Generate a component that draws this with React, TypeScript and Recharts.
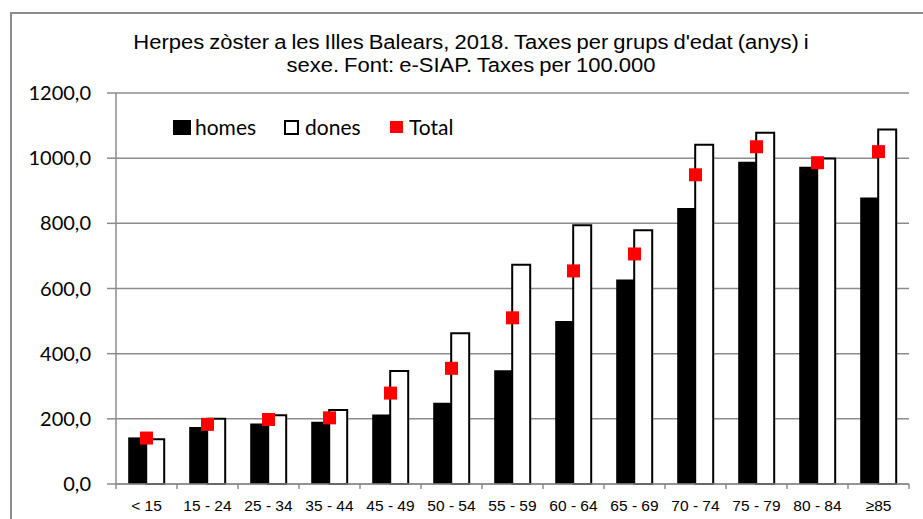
import React from "react";
import {
  ComposedChart,
  Bar,
  Line,
  XAxis,
  YAxis,
  CartesianGrid,
} from "recharts";

const categories = [
  "< 15",
  "15 - 24",
  "25 - 34",
  "35 - 44",
  "45 - 49",
  "50 - 54",
  "55 - 59",
  "60 - 64",
  "65 - 69",
  "70 - 74",
  "75 - 79",
  "80 - 84",
  "≥85",
];
const homes = [143, 175, 186, 191, 213, 249, 349, 500, 628, 847, 989, 974, 879];
const dones = [137, 200, 211, 227, 347, 463, 673, 794, 779, 1041, 1078, 999, 1088];
const total = [141, 183, 198, 203, 279, 355, 510, 654, 706, 949, 1035, 986, 1020];
const yTicks = [0, 200, 400, 600, 800, 1000, 1200];

const data = categories.map((name, i) => ({
  name,
  homes: homes[i],
  dones: dones[i],
  total: total[i],
}));

const W = 923;
const H = 519;
const GRAY = "#8c8c8c";
const LEGEND_FONT = "Lato, 'Open Sans', sans-serif";

const fmt = (v: number) => v.toFixed(1).replace(".", ",");

function CategoryTick(props: any) {
  const { x, y, payload, index } = props;
  const half = payload && payload.offset ? payload.offset : 30.5;
  const last = index === categories.length - 1;
  return (
    <g>
      <line x1={x - half} x2={x - half} y1={y} y2={y + 5} stroke={GRAY} strokeWidth={1.5} />
      {last && (
        <line x1={x + half} x2={x + half} y1={y} y2={y + 5} stroke={GRAY} strokeWidth={1.5} />
      )}
      <text
        x={x}
        y={y + 27}
        textAnchor="middle"
        fontSize={15.5}
        fill="#000"
        fontFamily="'Liberation Sans', Arial, sans-serif"
      >
        {payload.value}
      </text>
    </g>
  );
}

function SquareDot(props: any) {
  const { cx, cy } = props;
  if (cx == null || cy == null) return null;
  return <rect x={cx - 6.5} y={cy - 6.5} width={13} height={13} fill="#ff0000" />;
}

const legendText = (left: number, label: string) => (
  <span
    style={{
      position: "absolute",
      left,
      top: 114,
      fontFamily: LEGEND_FONT,
      fontSize: 21,
      lineHeight: "26px",
      color: "#000",
    }}
  >
    {label}
  </span>
);

export default function App() {
  return (
    <div
      style={{
        position: "absolute",
        left: 0,
        top: 0,
        width: W,
        height: H,
        overflow: "hidden",
        background: "#fff",
      }}
    >
      <div
        style={{
          position: "absolute",
          left: 10,
          top: 12,
          width: 960,
          height: 600,
          border: `2px solid ${GRAY}`,
        }}
      />
      <div
        style={{
          position: "absolute",
          left: 0,
          top: 31,
          width: 942,
          textAlign: "center",
          fontFamily: "'Liberation Sans', Arial, sans-serif",
          fontSize: 20,
          lineHeight: "23px",
          wordSpacing: -1,
          color: "#000",
          transform: "scaleX(1.1)",
          transformOrigin: "471px 0",
        }}
      >
        Herpes zòster a les Illes Balears, 2018. Taxes per grups d'edat (anys) i
        <br />
        sexe. Font: e-SIAP. Taxes per 100.000
      </div>

      {/* legend */}
      <span style={{ position: "absolute", left: 173, top: 120, width: 18, height: 15, background: "#000" }} />
      {legendText(195, "homes")}
      <span
        style={{
          position: "absolute",
          left: 284,
          top: 120,
          width: 11,
          height: 11,
          border: "2px solid #000",
          background: "#fff",
        }}
      />
      {legendText(305, "dones")}
      <span style={{ position: "absolute", left: 390, top: 121, width: 13, height: 12, background: "#ff0000" }} />
      {legendText(409, "Total")}

      <div style={{ position: "absolute", left: 0, top: 0 }}>
        <ComposedChart
          width={W}
          height={H}
          data={data}
          margin={{ top: 93, right: 14, bottom: 0, left: 0 }}
          barGap={0}
          barCategoryGap="20%"
        >
          <CartesianGrid vertical={false} stroke={GRAY} strokeWidth={1.5} />
          <XAxis
            dataKey="name"
            height={35}
            axisLine={{ stroke: GRAY, strokeWidth: 1.5 }}
            tickLine={false}
            tickSize={0}
            tickMargin={0}
            interval={0}
            tick={<CategoryTick />}
          />
          <YAxis
            width={116}
            domain={[0, 1200]}
            ticks={yTicks}
            tickFormatter={fmt}
            axisLine={{ stroke: GRAY, strokeWidth: 1.5 }}
            tickLine={{ stroke: GRAY, strokeWidth: 1.5 }}
            tickSize={9}
            tickMargin={16}
            tick={{ fill: "#000", fontSize: 20, fontFamily: LEGEND_FONT }}
          />
          <Bar dataKey="homes" fill="#000" isAnimationActive={false} />
          <Bar
            dataKey="dones"
            fill="#fff"
            stroke="#000"
            strokeWidth={2}
            isAnimationActive={false}
          />
          <Line
            dataKey="total"
            stroke="none"
            dot={<SquareDot />}
            activeDot={false}
            isAnimationActive={false}
          />
        </ComposedChart>
      </div>
    </div>
  );
}
